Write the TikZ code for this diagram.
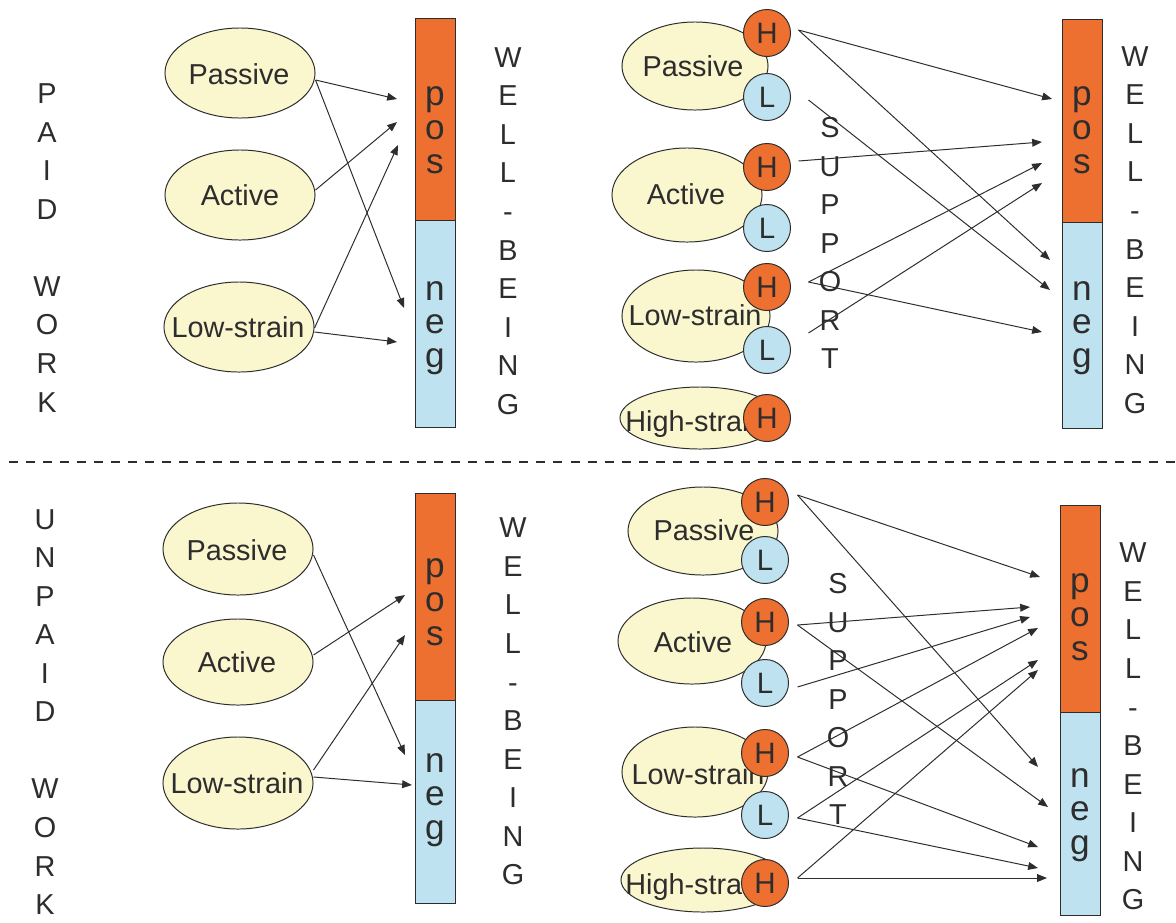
\documentclass[tikz,border=0pt]{standalone}
\usepackage{fontspec}
\setmainfont{Liberation Sans}
\usetikzlibrary{shapes.geometric,arrows.meta,calc}
\definecolor{cream}{RGB}{250,246,206}
\definecolor{hot}{RGB}{238,112,48}
\definecolor{cool}{RGB}{190,226,240}
\definecolor{ink}{RGB}{45,45,45}

\begin{document}
\begin{tikzpicture}[x=0.025cm,y=-0.025cm,
  oval/.style 2 args={ellipse, draw=ink, line width=0.7pt, fill=cream, inner sep=0pt,
    minimum width=#1*0.05cm, minimum height=#2*0.05cm},
  otext/.style={font=\fontsize{20.5}{24}\selectfont, text=ink, inner sep=0pt, text depth=0pt},
  hnode/.style={circle, draw=ink, line width=0.7pt, fill=hot, minimum size=1.175cm,
    inner sep=0pt, font=\fontsize{21}{21}\selectfont, text=ink},
  lnode/.style={hnode, fill=cool},
  posbar/.style 2 args={rectangle, draw=ink, line width=0.7pt, fill=hot,
    minimum width=#1*0.025cm, minimum height=#2*0.025cm, inner sep=0pt},
  negbar/.style 2 args={posbar={#1}{#2}, fill=cool},
  bartext/.style={font=\fontsize{25}{24}\selectfont, text=ink, align=center, inner sep=0pt},
  vlabel/.style={font=\fontsize{20.5}{27.4}\selectfont, text=ink, align=center, inner sep=0pt},
  arr/.style={-{Triangle[length=7pt,width=5.5pt]}, line width=0.7pt, draw=ink},
]
\fill[white] (0,0) rectangle (1176,922);
\useasboundingbox (0,0) rectangle (1176,922);

% ---------- separator between the two halves ----------
\coordinate (sepL) at (9,462);
\coordinate (sepR) at (1176,462);
\draw[ink, line width=2pt, dash pattern=on 6.4pt off 5.7pt] (sepL) -- (sepR);

% ---------- side titles ----------
\node[vlabel] (paid) at (47,248) {P\\A\\I\\D\\[27.4pt]W\\O\\R\\K};
\node[vlabel] (unpaid) at (45,712) {U\\N\\P\\A\\I\\D\\[27.4pt]W\\O\\R\\K};

% ---------- upper left: paid work types ----------
\node[oval={75}{45}] (tlpa) at (240,73) {};
\node[otext] (tlpa-t) at (239,74) {Passive};
\node[oval={75}{45}] (tlac) at (240,195) {};
\node[otext] (tlac-t) at (240,195) {Active};
\node[oval={75}{45}] (tllo) at (239,327) {};
\node[otext] (tllo-t) at (238,327) {Low-strain};

\node[posbar={40}{202}] (tlpos) at (435,119) {};
\node[negbar={40}{207}] (tlneg) at (435,323.5) {};
\node[bartext] (tlpos-t) at (435,130) {p\\o\\s};
\node[bartext] (tlneg-t) at (435,328) {n\\e\\g};
\node[vlabel] (tlwb) at (508,231) {W\\E\\L\\L\\-\\B\\E\\I\\N\\G};

\coordinate (tle1) at (397,99);
\coordinate (tle2) at (404,308);
\coordinate (tle3) at (397,122);
\coordinate (tle4) at (398,145);
\coordinate (tle5) at (397,342);
\draw[arr] ($(tlpa.east)+(0,7)$) -- (tle1);
\draw[arr] ($(tlpa.east)+(0,7)$) -- (tle2);
\draw[arr] ($(tlac.east)+(0,-5)$) -- (tle3);
\draw[arr] ($(tllo.east)+(0,1)$) -- (tle4);
\draw[arr] ($(tllo.east)+(0,5)$) -- (tle5);

% ---------- lower left: unpaid work types ----------
\node[oval={75}{46}] (blpa) at (238,549) {};
\node[otext] (blpa-t) at (237,550) {Passive};
\node[oval={75}{43}] (blac) at (238,662) {};
\node[otext] (blac-t) at (237,662) {Active};
\node[oval={75}{46}] (bllo) at (238,783) {};
\node[otext] (bllo-t) at (237,783) {Low-strain};

\node[posbar={40}{207}] (blpos) at (435,596.5) {};
\node[negbar={40}{203}] (blneg) at (435,801.5) {};
\node[bartext] (blpos-t) at (435,602) {p\\o\\s};
\node[bartext] (blneg-t) at (435,800) {n\\e\\g};
\node[vlabel] (blwb) at (513,701.5) {W\\E\\L\\L\\-\\B\\E\\I\\N\\G};

\coordinate (ble1) at (405,755);
\coordinate (ble2) at (405,595);
\coordinate (ble3) at (405,635);
\coordinate (ble4) at (412,785);
\draw[arr] ($(blpa.east)+(0,6)$) -- (ble1);
\draw[arr] ($(blac.east)+(0,-7)$) -- (ble2);
\draw[arr] ($(bllo.east)+(0,-13)$) -- (ble3);
\draw[arr] ($(bllo.east)+(0,-6)$) -- (ble4);

% ---------- upper right: paid work x support ----------
\node[oval={73}{44}] (trpa) at (695,66) {};
\node[otext] (trpa-t) at (693,66) {Passive};
\node[oval={75}{47}] (trac) at (687,195) {};
\node[otext] (trac-t) at (686,194) {Active};
\node[oval={74}{46}] (trlo) at (696,316) {};
\node[otext] (trlo-t) at (695,315) {Low-strain};
\node[oval={80}{31}] (trhi) at (700,418) {};
\node[otext] (trhi-t) at (695,421) {High-strain};

\node[hnode] (trh1) at (767,33) {H};
\node[lnode] (trl1) at (767,97) {L};
\node[hnode] (trh2) at (767,167) {H};
\node[lnode] (trl2) at (767,228) {L};
\node[hnode] (trh3) at (767,287) {H};
\node[lnode] (trl3) at (767,350) {L};
\node[hnode] (trh4) at (767,418) {H};

\node[vlabel] (trsup) at (830,243) {S\\U\\P\\P\\O\\R\\T};

\node[posbar={40}{203}] (trpos) at (1082,120.5) {};
\node[negbar={40}{206}] (trneg) at (1082,325) {};
\node[bartext] (trpos-t) at (1082,130) {p\\o\\s};
\node[bartext] (trneg-t) at (1082,328) {n\\e\\g};
\node[vlabel] (trwb) at (1135,230) {W\\E\\L\\L\\-\\B\\E\\I\\N\\G};

\coordinate (tre1) at (1052,99);
\coordinate (tre2) at (1050,260);
\coordinate (tre3) at (1050,290);
\coordinate (tre4) at (1042,142);
\coordinate (tre5) at (1042,163);
\coordinate (tre6) at (1042,332);
\coordinate (tre7) at (1042,183);
\draw[arr] ($(trh1.east)+(7.5,-3)$) -- (tre1);
\draw[arr] ($(trh1.east)+(7.5,-3)$) -- (tre2);
\draw[arr] ($(trl1.east)+(17.5,3)$) -- (tre3);
\draw[arr] ($(trh2.east)+(7.5,-6)$) -- (tre4);
\draw[arr] ($(trh3.east)+(17.5,-5)$) -- (tre5);
\draw[arr] ($(trh3.east)+(17.5,-5)$) -- (tre6);
\draw[arr] ($(trl3.east)+(17.5,-17)$) -- (tre7);

% ---------- lower right: unpaid work x support ----------
\node[oval={75}{44}] (brpa) at (703,531) {};
\node[otext] (brpa-t) at (704,530) {Passive};
\node[oval={74}{43}] (brac) at (692,641) {};
\node[otext] (brac-t) at (693,642) {Active};
\node[oval={73}{45}] (brlo) at (695,772) {};
\node[otext] (brlo-t) at (698,774) {Low-strain};
\node[oval={82}{32}] (brhi) at (703,880) {};
\node[otext] (brhi-t) at (695,884) {High-strain};

\node[hnode] (brh1) at (765,502) {H};
\node[lnode] (brl1) at (765,560) {L};
\node[hnode] (brh2) at (765,622) {H};
\node[lnode] (brl2) at (765,683) {L};
\node[hnode] (brh3) at (765,753) {H};
\node[lnode] (brl3) at (765,815) {L};
\node[hnode] (brh4) at (765,883) {H};

\node[vlabel] (brsup) at (838,699) {S\\U\\P\\P\\O\\R\\T};

\node[posbar={40}{207}] (brpos) at (1080,608.5) {};
\node[negbar={40}{203}] (brneg) at (1080,813.5) {};
\node[bartext] (brpos-t) at (1080,617) {p\\o\\s};
\node[bartext] (brneg-t) at (1080,815) {n\\e\\g};
\node[vlabel] (brwb) at (1133,726.5) {W\\E\\L\\L\\-\\B\\E\\I\\N\\G};

\coordinate (bre1) at (1040,577);
\coordinate (bre2) at (1038,767);
\coordinate (bre3) at (1030,607);
\coordinate (bre4) at (1048,807);
\coordinate (bre5) at (1030,617);
\coordinate (bre6) at (1038,628);
\coordinate (bre7) at (1038,847);
\coordinate (bre8) at (1038,660);
\coordinate (bre9) at (1038,868);
\coordinate (bre10) at (1038,670);
\coordinate (bre11) at (1047,878);
\draw[arr] ($(brh1.east)+(8.5,-7)$) -- (bre1);
\draw[arr] ($(brh1.east)+(8.5,-7)$) -- (bre2);
\draw[arr] ($(brh2.east)+(8.5,3)$) -- (bre3);
\draw[arr] ($(brh2.east)+(8.5,3)$) -- (bre4);
\draw[arr] ($(brl2.east)+(8.5,4)$) -- (bre5);
\draw[arr] ($(brh3.east)+(8.5,4)$) -- (bre6);
\draw[arr] ($(brh3.east)+(8.5,4)$) -- (bre7);
\draw[arr] ($(brl3.east)+(8.5,3)$) -- (bre8);
\draw[arr] ($(brl3.east)+(8.5,3)$) -- (bre9);
\draw[arr] ($(brh4.east)+(8.5,-5)$) -- (bre10);
\draw[arr] ($(brh4.east)+(8.5,-5)$) -- (bre11);
\end{tikzpicture}
\end{document}
